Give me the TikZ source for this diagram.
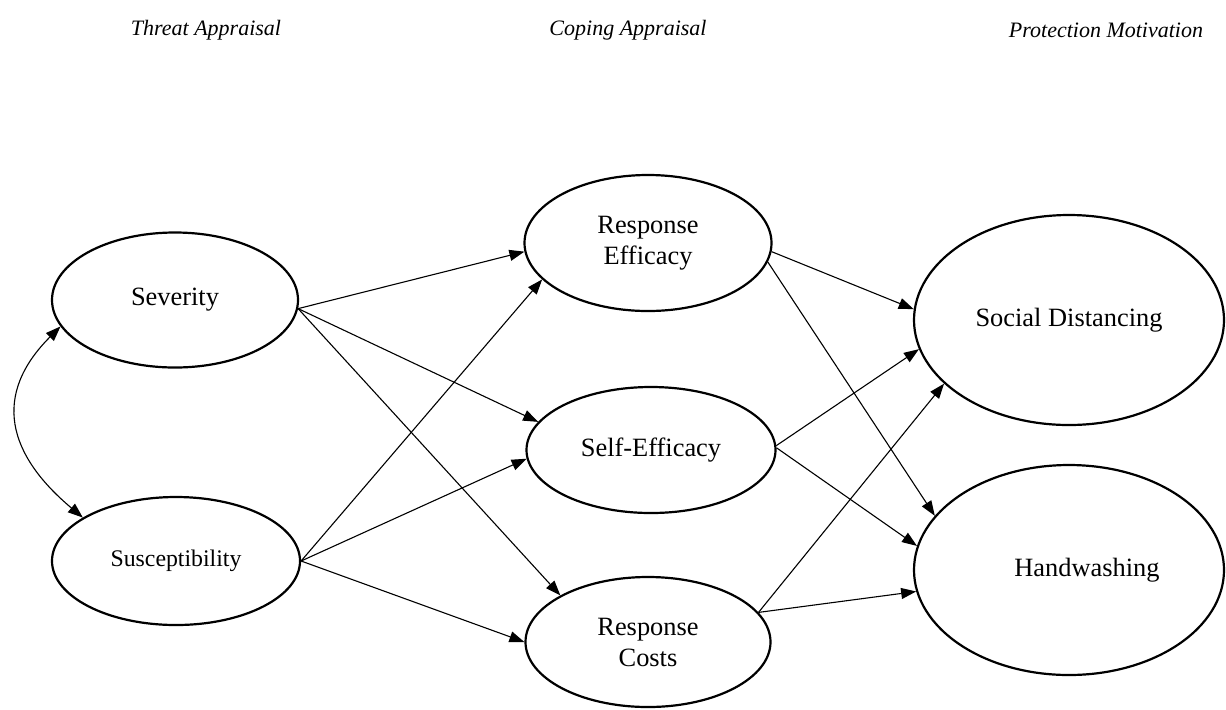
\documentclass[tikz,border=0pt]{standalone}
\usepackage{fontspec}
\setmainfont{Liberation Serif}
\usetikzlibrary{arrows.meta,shapes.geometric}
\tikzset{
  construct/.style={draw, ellipse, line width=1.1pt, inner sep=0pt, align=center,
    font=\fontsize{13.2}{15.5}\selectfont},
  effect/.style={-{Triangle[length=7.5pt,width=5.5pt]}, line width=0.55pt},
  heading/.style={font=\fontsize{11}{13}\selectfont\itshape}
}
\begin{document}
\begin{tikzpicture}[x=0.5pt,y=-0.5pt]
  \useasboundingbox (0,0) rectangle (1226,709);
  % headings
  \node[heading] (hthreat) at (206,30) {Threat Appraisal};
  \node[heading] (hcoping) at (628,30) {Coping Appraisal};
  \node[heading] (hprotect) at (1106,30) {Protection Motivation};
  % threat appraisal
  \node[construct, minimum width=123pt, minimum height=67.5pt] (sev) at (175,300) {Severity};
  \node[construct, minimum width=124pt, minimum height=64pt, font=\fontsize{11.9}{14}\selectfont] (sus) at (176,561) {Susceptibility};
  % coping appraisal
  \node[construct, minimum width=123.5pt, minimum height=68pt] (reff) at (648,243) {Response\\Efficacy};
  \node[construct, minimum width=124.5pt, minimum height=63pt] (seff) at (651,450) {Self-Efficacy};
  \node[construct, minimum width=122.5pt, minimum height=65pt] (rcost) at (648,642) {Response\\Costs};
  % protection motivation
  \node[construct, minimum width=155pt, minimum height=105pt] (soc) at (1069,320) {Social Distancing};
  \node[construct, minimum width=155pt, minimum height=105pt] (hand) at (1069,570) {\hspace*{18pt}Handwashing};
  % correlation
  \draw[{Triangle[length=7.5pt,width=5.5pt]}-{Triangle[length=7.5pt,width=5.5pt]}, line width=0.55pt]
    (sev.193) to[out=225,in=140,looseness=1.3] (sus.155);
  % paths
  \foreach \a/\b in {sev.-4/reff.184, sev.-4/seff.166, sev.-4/rcost.152,
                     sus.east/reff.199, sus.east/seff.184, sus.east/rcost.west,
                     reff.-4/soc.176, reff.-9/hand.158,
                     seff.2/soc.191, seff.1/hand.171,
                     rcost.15/soc.207, rcost.15/hand.188}
    \draw[effect] (\a) -- (\b);
\end{tikzpicture}
\end{document}
